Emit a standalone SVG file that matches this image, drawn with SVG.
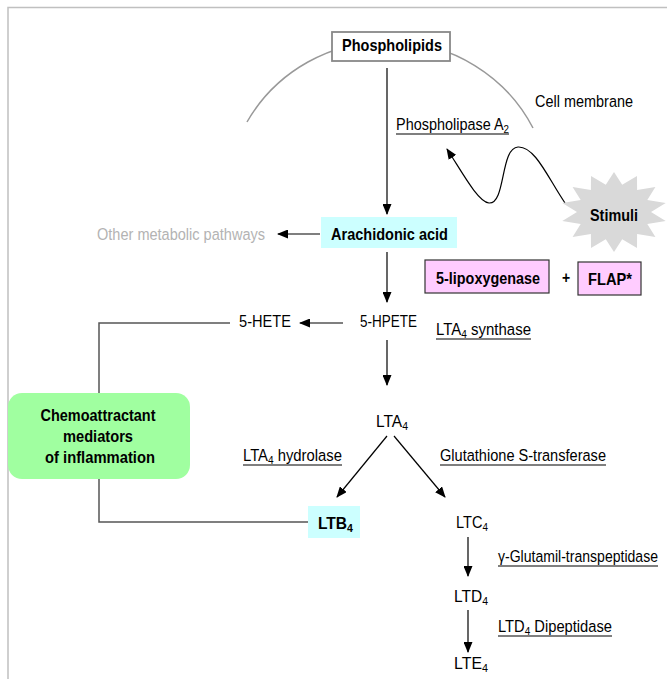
<svg xmlns="http://www.w3.org/2000/svg" width="667" height="679" viewBox="0 0 667 679">
<style>
.t{font-family:"Liberation Sans",Arial,sans-serif;font-size:14px;fill:#000}
.b{font-weight:bold}
.s{font-size:9.5px}
.ln{stroke:#000;stroke-width:1.2;fill:none}
.ul{stroke:#000;stroke-width:1.2}
</style>
<defs>
<marker id="ah" markerUnits="userSpaceOnUse" markerWidth="11" markerHeight="9" refX="10" refY="4.5" orient="auto">
<path d="M0,0 L11,4.5 L0,9 z" fill="#000"/>
</marker>
</defs>
<rect width="667" height="679" fill="#fff"/>
<g id="frame">
<path d="M8,679 V7.5 H667" fill="none" stroke="#c0c0c0" stroke-width="1.5"/>
</g>
<g id="membrane">
<path d="M247,122 A162 158 0 0 1 533,128" fill="none" stroke="#999" stroke-width="1.5"/>
<text class="t" transform="translate(535,107) scale(1,1.22)" textLength="98" lengthAdjust="spacingAndGlyphs">Cell membrane</text>
</g>
<g id="connectors">
<path class="ln" d="M387,68 V214" marker-end="url(#ah)"/>
<path class="ln" d="M320,234 H278" marker-end="url(#ah)"/>
<path class="ln" d="M387,252 V302" marker-end="url(#ah)"/>
<path class="ln" d="M343,323 H300" marker-end="url(#ah)"/>
<path class="ln" d="M387,340 V385" marker-end="url(#ah)"/>
<path class="ln" d="M387,436 L337,497" marker-end="url(#ah)"/>
<path class="ln" d="M394,436 L445,497" marker-end="url(#ah)"/>
<path class="ln" d="M468,537 V576" marker-end="url(#ah)"/>
<path class="ln" d="M468,610 V652" marker-end="url(#ah)"/>
<path class="ln" d="M565,203 C548,178 535,146 518,147 C500,148 506,204 489,203 C478,202 462,172 447,149" marker-end="url(#ah)"/>
<path d="M230,323 H99 V522 H308" fill="none" stroke="#555" stroke-width="1.5"/>
</g>
<g id="phospholipids">
<rect x="332" y="32" width="118" height="29" fill="#fff" stroke="#888" stroke-width="1.8"/>
<text class="t b" transform="translate(342,51) scale(1,1.22)" textLength="100" lengthAdjust="spacingAndGlyphs" fill="#333">Phospholipids</text>
</g>
<g id="pla2">
<text class="t" transform="translate(396,130) scale(1,1.22)" textLength="113" lengthAdjust="spacingAndGlyphs">Phospholipase A<tspan class="s" dy="2.5">2</tspan></text>
<line class="ul" x1="396" y1="134" x2="509" y2="134"/>
</g>
<g id="stimuli">
<polygon points="614,172 622.2,184.7 637,176 637.1,190.1 655.4,187.1 647.3,199.9 665.7,203.1 651,212 665.7,220.9 647.3,224.1 655.4,236.9 637.1,233.9 637,248 622.2,239.3 614,252 605.8,239.3 591,248 590.9,233.9 572.6,236.9 580.7,224.1 562.3,220.9 577,212 562.3,203.1 580.7,199.9 572.6,187.1 590.9,190.1 591,176 605.8,184.7" fill="#d9d9d9"/>
<text class="t b" transform="translate(590,221) scale(1,1.22)" textLength="48" lengthAdjust="spacingAndGlyphs">Stimuli</text>
</g>
<g id="other">
<text class="t" transform="translate(97,240) scale(1,1.22)" textLength="168" lengthAdjust="spacingAndGlyphs" style="fill:#b3b3b3">Other metabolic pathways</text>
</g>
<g id="arachidonic">
<rect x="321" y="217" width="136" height="31" fill="#ccffff"/>
<text class="t b" transform="translate(331,240) scale(1,1.22)" textLength="117" lengthAdjust="spacingAndGlyphs">Arachidonic acid</text>
</g>
<g id="lipoxygenase">
<rect x="425" y="260" width="124" height="33" fill="#ffccff" stroke="#333" stroke-width="1.2"/>
<text class="t b" transform="translate(436,284) scale(1,1.22)" textLength="104" lengthAdjust="spacingAndGlyphs">5-lipoxygenase</text>
</g>
<g id="plus">
<text class="t b" transform="translate(562,283) scale(1,1.22)">+</text>
</g>
<g id="flap">
<rect x="578" y="262" width="63" height="33" fill="#ffccff" stroke="#333" stroke-width="1.2"/>
<text class="t b" transform="translate(588,285) scale(1,1.22)" textLength="44" lengthAdjust="spacingAndGlyphs">FLAP*</text>
</g>
<g id="hete">
<text class="t" transform="translate(239,327) scale(1,1.22)" textLength="52" lengthAdjust="spacingAndGlyphs">5-HETE</text>
</g>
<g id="hpete">
<text class="t" transform="translate(360,327) scale(1,1.22)" textLength="57" lengthAdjust="spacingAndGlyphs">5-HPETE</text>
</g>
<g id="lta4synthase">
<text class="t" transform="translate(436,335) scale(1,1.22)" textLength="95" lengthAdjust="spacingAndGlyphs">LTA<tspan class="s" dy="2.5">4</tspan><tspan dy="-2.5"> synthase</tspan></text>
<line class="ul" x1="436" y1="339" x2="531" y2="339"/>
</g>
<g id="chemo">
<rect x="8" y="393" width="182" height="86" rx="14" fill="#a0ffa0"/>
<text class="t b" transform="translate(98,421) scale(1,1.22)" text-anchor="middle" textLength="115" lengthAdjust="spacingAndGlyphs">Chemoattractant</text>
<text class="t b" transform="translate(98,442) scale(1,1.22)" text-anchor="middle" textLength="70" lengthAdjust="spacingAndGlyphs">mediators</text>
<text class="t b" transform="translate(100,463) scale(1,1.22)" text-anchor="middle" textLength="110" lengthAdjust="spacingAndGlyphs">of inflammation</text>
</g>
<g id="lta4">
<text class="t" transform="translate(376,427) scale(1,1.22)" textLength="32" lengthAdjust="spacingAndGlyphs">LTA<tspan class="s" dy="2.5">4</tspan></text>
</g>
<g id="lta4hydrolase">
<text class="t" transform="translate(243,461) scale(1,1.22)" textLength="99" lengthAdjust="spacingAndGlyphs">LTA<tspan class="s" dy="2.5">4</tspan><tspan dy="-2.5"> hydrolase</tspan></text>
<line class="ul" x1="243" y1="465" x2="342" y2="465"/>
</g>
<g id="gst">
<text class="t" transform="translate(440,461) scale(1,1.22)" textLength="166" lengthAdjust="spacingAndGlyphs">Glutathione S-transferase</text>
<line class="ul" x1="440" y1="465" x2="606" y2="465"/>
</g>
<g id="ltb4">
<rect x="308" y="506" width="52" height="32" fill="#ccffff"/>
<text class="t b" transform="translate(318,529) scale(1,1.22)" textLength="35" lengthAdjust="spacingAndGlyphs">LTB<tspan class="s" dy="2.5">4</tspan></text>
</g>
<g id="ltc4">
<text class="t" transform="translate(456,528) scale(1,1.22)" textLength="32" lengthAdjust="spacingAndGlyphs">LTC<tspan class="s" dy="2.5">4</tspan></text>
</g>
<g id="ggt">
<text class="t" transform="translate(498,562) scale(1,1.22)" textLength="160" lengthAdjust="spacingAndGlyphs">γ-Glutamil-transpeptidase</text>
<line class="ul" x1="498" y1="566" x2="658" y2="566"/>
</g>
<g id="ltd4">
<text class="t" transform="translate(454,602) scale(1,1.22)" textLength="34" lengthAdjust="spacingAndGlyphs">LTD<tspan class="s" dy="2.5">4</tspan></text>
</g>
<g id="ltd4dipeptidase">
<text class="t" transform="translate(498,632) scale(1,1.22)" textLength="114" lengthAdjust="spacingAndGlyphs">LTD<tspan class="s" dy="2.5">4</tspan><tspan dy="-2.5"> Dipeptidase</tspan></text>
<line class="ul" x1="498" y1="636" x2="612" y2="636"/>
</g>
<g id="lte4">
<text class="t" transform="translate(454,669) scale(1,1.22)" textLength="34" lengthAdjust="spacingAndGlyphs">LTE<tspan class="s" dy="2.5">4</tspan></text>
</g>
</svg>
